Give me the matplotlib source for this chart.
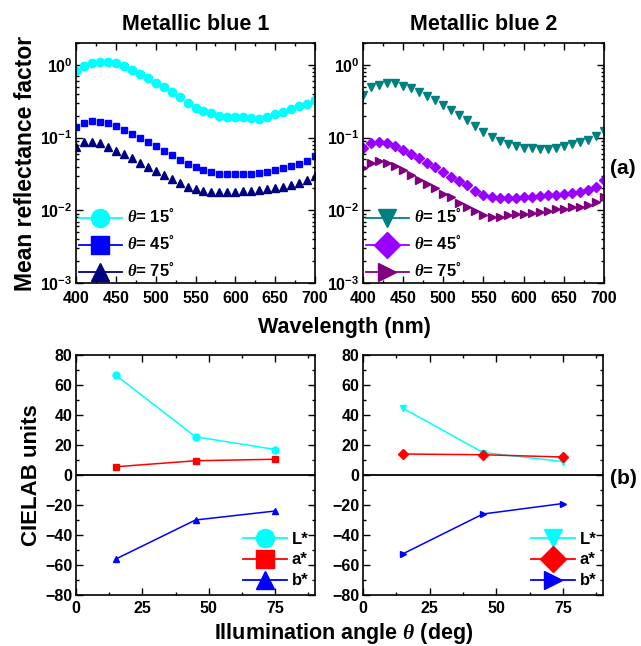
import numpy as np
import matplotlib
matplotlib.use("Agg")
import matplotlib.pyplot as plt
from matplotlib.ticker import MultipleLocator, FixedLocator, FuncFormatter, LogLocator, NullFormatter
from matplotlib.lines import Line2D

plt.rcParams['font.family'] = ['Liberation Sans', 'DejaVu Sans']
plt.rcParams['font.weight'] = 'bold'
plt.rcParams['mathtext.fontset'] = 'custom'
plt.rcParams['mathtext.rm'] = 'Liberation Sans:bold'
plt.rcParams['mathtext.it'] = 'Liberation Serif:italic'
plt.rcParams['mathtext.bf'] = 'Liberation Sans:bold'

wavelength = list(range(400, 701, 10))

mb1_15 = [0.83, 0.98, 1.05, 1.10, 1.10, 1.07, 0.98, 0.85, 0.75, 0.65, 0.57, 0.49, 0.42, 0.36, 0.30,
          0.255, 0.23, 0.215, 0.20, 0.195, 0.195, 0.19, 0.186, 0.183, 0.19, 0.21, 0.225, 0.245, 0.27, 0.29, 0.33]
mb1_45 = [0.139, 0.16, 0.167, 0.166, 0.157, 0.144, 0.129, 0.113, 0.10, 0.087, 0.076, 0.066, 0.057, 0.049, 0.043,
          0.039, 0.036, 0.034, 0.032, 0.0315, 0.0315, 0.0315, 0.032, 0.033, 0.034, 0.036, 0.038, 0.041, 0.044, 0.048, 0.055]
mb1_75 = [0.075, 0.088, 0.088, 0.083, 0.075, 0.066, 0.059, 0.052, 0.045, 0.040, 0.035, 0.031, 0.027, 0.024, 0.021,
          0.0197, 0.0185, 0.0178, 0.0176, 0.0176, 0.0179, 0.0183, 0.0187, 0.019, 0.0197, 0.0205, 0.021, 0.022, 0.024, 0.026, 0.030]

mb2_15 = [0.39, 0.49, 0.53, 0.56, 0.56, 0.51, 0.48, 0.43, 0.37, 0.33, 0.28, 0.24, 0.205, 0.175, 0.145,
          0.12, 0.102, 0.09, 0.081, 0.076, 0.073, 0.071, 0.069, 0.069, 0.072, 0.077, 0.081, 0.087, 0.094, 0.105, 0.124]
mb2_45 = [0.071, 0.085, 0.088, 0.085, 0.076, 0.067, 0.059, 0.052, 0.045, 0.039, 0.034, 0.029, 0.025, 0.022, 0.0183,
          0.016, 0.015, 0.0146, 0.0146, 0.0148, 0.015, 0.015, 0.0155, 0.016, 0.0162, 0.017, 0.0175, 0.018, 0.019, 0.021, 0.026]
mb2_75 = [0.038, 0.045, 0.047, 0.045, 0.041, 0.036, 0.031, 0.026, 0.023, 0.020, 0.017, 0.015, 0.0128, 0.011, 0.0097,
          0.0087, 0.0082, 0.0082, 0.0086, 0.0089, 0.009, 0.0093, 0.0096, 0.0099, 0.0103, 0.0105, 0.011, 0.011, 0.012, 0.013, 0.015]

angles = [15, 45, 75]
mb1_L = [66.5, 25.5, 17.0]
mb1_a = [5.5, 9.5, 10.5]
mb1_b = [-56.0, -30.0, -24.0]
mb2_L = [44.5, 15.0, 9.0]
mb2_a = [14.0, 13.5, 12.0]
mb2_b = [-52.5, -26.0, -19.0]

titles = ["Metallic blue 1", "Metallic blue 2"]
theta_labels = [r"$\mathit{\theta}$= 15$^{°}$", r"$\mathit{\theta}$= 45$^{°}$", r"$\mathit{\theta}$= 75$^{°}$"]
lab_labels = ["L*", "a*", "b*"]

W, H = 641, 646
fig = plt.figure(figsize=(W / 100, H / 100), dpi=100)

def rect(l, t, r, b):
    return [l / W, 1 - b / H, (r - l) / W, (b - t) / H]

ax1 = fig.add_axes(rect(76, 43, 315, 283))
ax2 = fig.add_axes(rect(363, 43, 604, 283))
ax3 = fig.add_axes(rect(76, 355, 315, 595))
ax4 = fig.add_axes(rect(363, 355, 603, 595))

def logfmt(v, pos):
    e = int(round(np.log10(v)))
    return r"$\mathbf{10^{%d}}$" % e

def common_ticks(ax, xpad):
    ax.tick_params(which='both', direction='in', top=True, right=True, labelsize=11.5, width=1.0)
    ax.tick_params(which='major', length=5)
    ax.tick_params(which='minor', length=2.5)
    ax.tick_params(axis='x', which='major', pad=xpad)
    ax.tick_params(axis='y', which='major', pad=2.5)
    for s in ax.spines.values():
        s.set_linewidth(1.2)

def style_top(ax):
    ax.set_yscale('log')
    ax.set_xlim(400, 700)
    ax.set_ylim(1e-3, 2.0)
    ax.xaxis.set_major_locator(MultipleLocator(50))
    ax.xaxis.set_minor_locator(MultipleLocator(25))
    ax.yaxis.set_major_locator(FixedLocator([1e-3, 1e-2, 1e-1, 1e0]))
    ax.yaxis.set_major_formatter(FuncFormatter(logfmt))
    ax.yaxis.set_minor_locator(LogLocator(base=10, subs=np.arange(2, 10)))
    ax.yaxis.set_minor_formatter(NullFormatter())
    common_ticks(ax, 6)

def style_bot(ax):
    ax.set_xlim(0, 90)
    ax.set_ylim(-80, 80)
    ax.xaxis.set_major_locator(MultipleLocator(25))
    ax.xaxis.set_minor_locator(MultipleLocator(12.5))
    ax.yaxis.set_major_locator(MultipleLocator(20))
    ax.yaxis.set_minor_locator(MultipleLocator(10))
    common_ticks(ax, 4.5)
    ax.axhline(0, color='black', lw=1.3)

# top-left
c1 = ['#00ffff', '#0000ff', '#000080']
m1 = ['o', 's', '^']
ms1 = [6.0, 5.0, 6.0]
for ys, c, m, ms, lab in zip([mb1_15, mb1_45, mb1_75], c1, m1, ms1, theta_labels):
    ax1.plot(wavelength, ys, ls='none', marker=m, ms=ms, color=c, mec=c, label=lab)
style_top(ax1)

# top-right
c2 = ['#008080', '#9900ff', '#800080']
m2 = ['v', 'D', '>']
ms2 = [6.0, 5.0, 5.5]
for ys, c, m, ms, lab in zip([mb2_15, mb2_45, mb2_75], c2, m2, ms2, theta_labels):
    ax2.plot(wavelength, ys, ls='none', marker=m, ms=ms, color=c, mec=c, label=lab)
style_top(ax2)

def top_legend(ax, colors, markers):
    handles = [Line2D([], [], color=c, marker=m, ms=13, lw=1.3) for c, m in zip(colors, markers)]
    ax.legend(handles, theta_labels, loc='lower left', frameon=False, fontsize=12,
              handlelength=2.6, handletextpad=0.3, labelspacing=0.5,
              borderaxespad=0.05, borderpad=0.1)
top_legend(ax1, c1, m1)
top_legend(ax2, c2, m2)

ax1.set_title(titles[0], fontsize=15.5, fontweight='bold', pad=9)
ax2.set_title(titles[1], fontsize=15.5, fontweight='bold', pad=9)
ax1.set_ylabel("Mean reflectance factor", fontsize=16.5, fontweight='bold', labelpad=2)

# bottom panels
cb = ['#00ffff', '#ff0000', '#0000ff']
mb_1 = ['o', 's', '^']
for ys, c, m in zip([mb1_L, mb1_a, mb1_b], cb, mb_1):
    ax3.plot(angles, ys, color=c, marker=m, ms=5, lw=1.1)
style_bot(ax3)
mb_2 = ['v', 'D', '>']
for ys, c, m in zip([mb2_L, mb2_a, mb2_b], cb, mb_2):
    ax4.plot(angles, ys, color=c, marker=m, ms=5, lw=1.1)
style_bot(ax4)

def bot_legend(ax, markers):
    handles = [Line2D([], [], color=c, marker=m, ms=13, lw=1.3) for c, m in zip(cb, markers)]
    ax.legend(handles, lab_labels, loc='lower right', frameon=False, fontsize=12,
              handlelength=2.6, handletextpad=0.3, labelspacing=0.35,
              borderaxespad=0.3, borderpad=0.1)
bot_legend(ax3, mb_1)
bot_legend(ax4, mb_2)

ax3.set_ylabel("CIELAB units", fontsize=16, fontweight='bold', labelpad=2)

fig.text(344 / W, 1 - 328 / H, "Wavelength (nm)", ha='center', va='center', fontsize=15.5, fontweight='bold')
fig.text(344 / W, 1 - 634 / H, r"Illumination angle $\mathit{\theta}$ (deg)", ha='center', va='center', fontsize=15.5, fontweight='bold')
fig.text(623 / W, 1 - 168 / H, "(a)", ha='center', va='center', fontsize=15, fontweight='bold')
fig.text(623 / W, 1 - 478 / H, "(b)", ha='center', va='center', fontsize=15, fontweight='bold')

fig.savefig("out.png", dpi=100)
